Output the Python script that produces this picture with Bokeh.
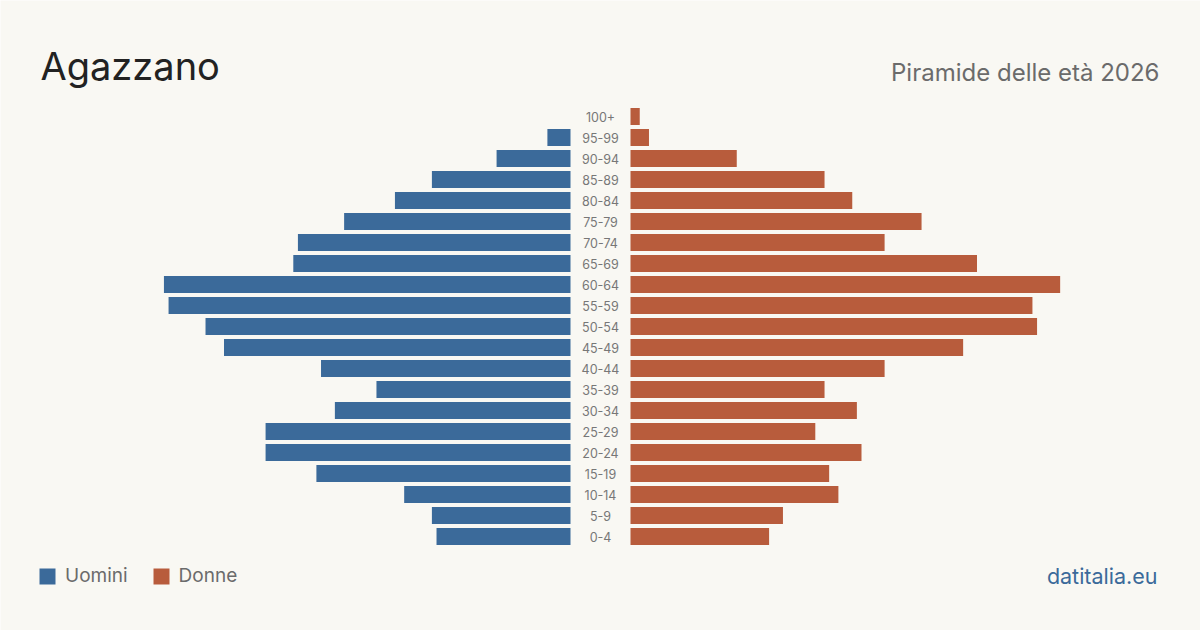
from bokeh.plotting import figure
from bokeh.models import Range1d, Label, Legend, LegendItem, ColumnDataSource
from bokeh.embed import file_html
from bokeh.resources import INLINE
from bokeh.core.properties import value

# ---- data ----
age_groups = ["0-4", "5-9", "10-14", "15-19", "20-24", "25-29", "30-34", "35-39",
              "40-44", "45-49", "50-54", "55-59", "60-64", "65-69", "70-74",
              "75-79", "80-84", "85-89", "90-94", "95-99", "100+"]
men = [29, 30, 36, 55, 66, 66, 51, 42, 54, 75, 79, 87, 88, 60, 59, 49, 38, 30, 16, 5, 0]
women = [30, 33, 45, 43, 50, 40, 49, 42, 55, 72, 88, 87, 93, 75, 55, 63, 48, 42, 23, 4, 2]

title = "Agazzano"
subtitle = "Piramide delle età 2026"
source_text = "datitalia.eu"

BG = "#f9f8f3"
BLUE = "#3b6a9a"
ORANGE = "#b85c3c"
FONT = "Inter"

W, H = 1200, 630
PX = 4.62          # pixels per person
GAP = 30 / PX      # half gap around the centre labels
ROW = 21           # pixels per row

x_half = (W / 2) / PX
y_top = 536 / ROW
y_bot = (536 - H) / ROW

p = figure(width=W, height=H, output_backend="svg", toolbar_location=None,
           x_range=Range1d(-x_half, x_half), y_range=Range1d(y_bot, y_top),
           min_border=0, background_fill_color=BG, border_fill_color=BG,
           outline_line_color=None)
p.axis.visible = False
p.grid.visible = False

ys = list(range(len(age_groups)))
src = ColumnDataSource(dict(
    y=ys,
    m_left=[-GAP - v for v in men], m_right=[-GAP] * len(men),
    w_left=[GAP] * len(women), w_right=[GAP + v for v in women],
    label=age_groups, zero=[0] * len(ys)))

bh = 0.8
rm = p.hbar(y="y", left="m_left", right="m_right", height=bh, source=src,
            fill_color=BLUE, line_color=None)
rw = p.hbar(y="y", left="w_left", right="w_right", height=bh, source=src,
            fill_color=ORANGE, line_color=None)

p.text(x="zero", y="y", text="label", source=src, text_align="center",
       text_baseline="middle", text_font=value(FONT), text_font_size="12.5px",
       text_color="#777777")

def dx(px):
    return (px - W / 2) / PX

def dy(py):
    return (536 - py) / ROW

p.add_layout(Label(x=dx(40), y=dy(65), text=title, text_font=FONT,
                   text_font_size="38px", text_color="#222222",
                   text_baseline="alphabetic"))
p.add_layout(Label(x=dx(1159), y=dy(72), text=subtitle, text_font=FONT,
                   text_font_size="24px", text_color="#6b6b6b",
                   text_align="right", text_baseline="alphabetic"))
p.add_layout(Label(x=dx(1157), y=dy(575), text=source_text, text_font=FONT,
                   text_font_size="21.5px", text_color=BLUE,
                   text_align="right", text_baseline="alphabetic"))

legend = Legend(items=[LegendItem(label="Uomini", renderers=[rm]),
                       LegendItem(label="Donne", renderers=[rw])],
                orientation="horizontal", location=(37, 43),
                glyph_width=20, glyph_height=20, label_standoff=8, spacing=23,
                label_text_font=FONT, label_text_font_size="19px",
                label_text_color="#6b6b6b", background_fill_alpha=0,
                border_line_alpha=0, padding=0, margin=10)
p.add_layout(legend)

open("out.html", "w").write(file_html(p, INLINE))
